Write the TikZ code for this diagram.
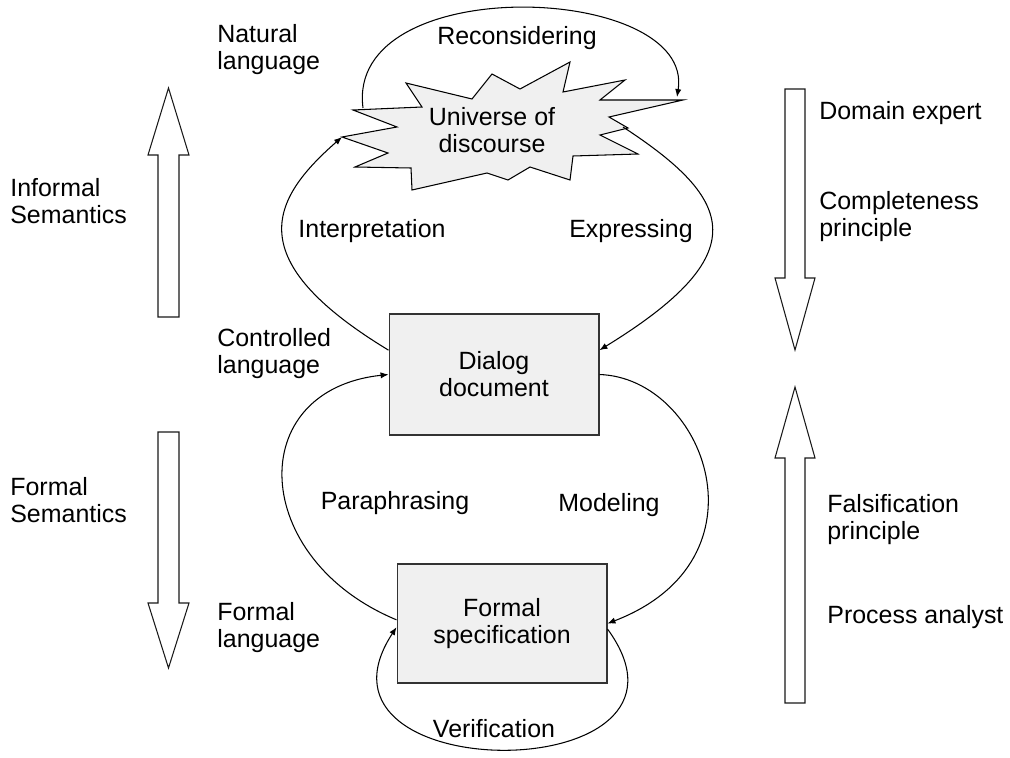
\documentclass[tikz,border=0pt]{standalone}
\usepackage{fontspec}
\setmainfont{Liberation Sans}
\usetikzlibrary{arrows.meta}

\begin{document}
\begin{tikzpicture}[x=0.02cm, y=-0.02cm, >={Latex[length=4.5pt,width=3.6pt]},
	every node/.style={font=\fontsize{14.2pt}{15.4pt}\selectfont, inner sep=0pt},
	side/.style={align=left, anchor=west},
	doc/.style={draw=black!80, line width=0.6pt, fill=black!6, minimum width=4.2cm, align=center},
	link/.style={->, line width=0.6pt},
	bigarrow/.style={draw=black!90, line width=0.6pt, fill=white}]
	\useasboundingbox (0,0) rectangle (1010,757);

	\draw[line width=0.6pt, fill=black!6] (353,110) -- (422,107) -- (406,83) -- (472,99) -- (492,74)
		-- (520,89) -- (570,62) -- (563,92) -- (625,80) -- (600,100) -- (683,100) -- (609,117)
		-- (628,128) -- (600,135) -- (638,154) -- (573,156) -- (570,180) -- (530,167) -- (508,180)
		-- (487,173) -- (412,190) -- (411,168) -- (355,167) -- (388,153) -- (342,137) -- (397,127) -- cycle;
	\node(universe) at (492,130) [align=center] {Universe of\\discourse};
	\coordinate(uL) at (342,137);
	\coordinate(uTop) at (363,108);
	\coordinate(uR) at (677,97);
	\coordinate(uE) at (623,127);

	\node(dialog) at (494,374.5) [doc, minimum height=2.42cm] {Dialog\\document};
	\node(formal) at (502,623.5) [doc, minimum height=2.38cm] {Formal\\specification};

	\draw[link] (uTop) .. controls (345,-30) and (695,-17) .. (uR);
	\draw[link] (dialog.167) .. controls (240,260) and (270,200) .. (uL);
	\draw[link] (uE) .. controls (735,200) and (756,254) .. (dialog.13);
	\draw[link] (formal.178) .. controls (250,559) and (243,390) .. (dialog.west);
	\draw[link] (dialog.east) .. controls (705,378) and (773,560) .. (formal.east);
	\draw[link] (formal.357) .. controls (725,790) and (290,790) .. (formal.182);

	\node(reconsidering) at (517,38) {Reconsidering};
	\node(interpretation) at (372,231) {Interpretation};
	\node(expressing) at (631,231) {Expressing};
	\node(paraphrasing) at (395,503) {Paraphrasing};
	\node(modeling) at (609,505) {Modeling};
	\node(verification) at (494,729) {Verification};

	\node(natural) at (217,50) [side] {Natural\\language};
	\node(controlled) at (217,354) [side] {Controlled\\language};
	\node(formallang) at (217,628) [side] {Formal\\language};
	\node(informal) at (10,201) [side] {Informal\\Semantics};
	\node(formalsem) at (10,500) [side] {Formal\\Semantics};
	\node(expert) at (819,113) [side] {Domain expert};
	\node(completeness) at (819,217) [side] {Completeness\\principle};
	\node(falsification) at (827,520) [side] {Falsification\\principle};
	\node(analyst) at (827,617) [side] {Process analyst};

	\draw[bigarrow] (168.5,88) -- (189,155) -- (179,155) -- (179,317) -- (158,317) -- (158,155) -- (148,155) -- cycle;
	\draw[bigarrow] (168.5,668) -- (189,603) -- (179,603) -- (179,432) -- (158,432) -- (158,603) -- (148,603) -- cycle;
	\draw[bigarrow] (795,350) -- (815,278) -- (805,278) -- (805,89) -- (785,89) -- (785,278) -- (775,278) -- cycle;
	\draw[bigarrow] (795,387) -- (815,458) -- (805,458) -- (805,703) -- (785,703) -- (785,458) -- (775,458) -- cycle;
\end{tikzpicture}
\end{document}
